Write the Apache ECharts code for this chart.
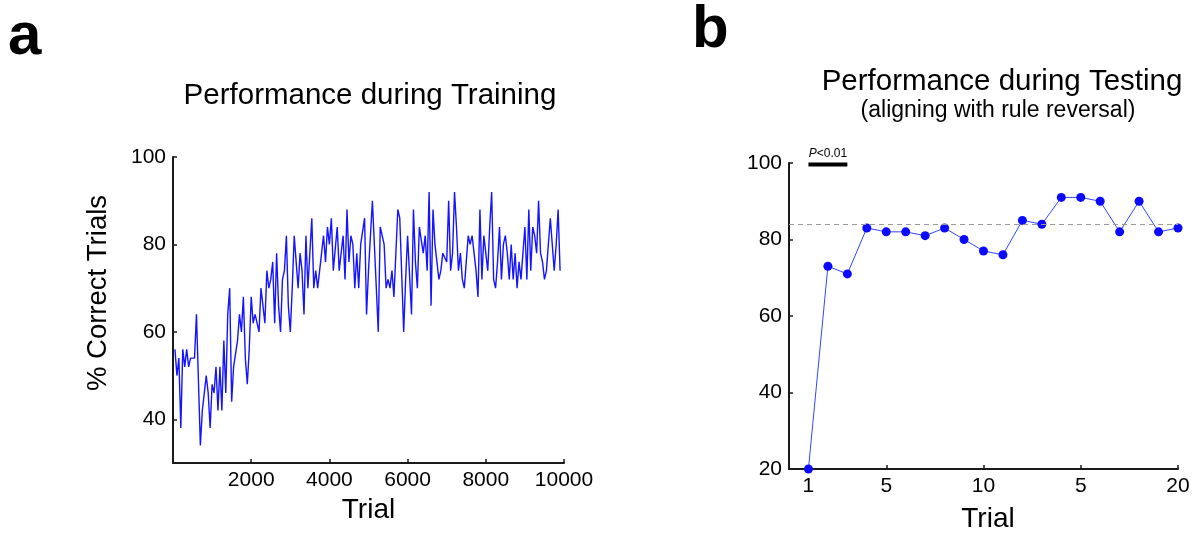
<!DOCTYPE html>
<html>
<head>
<meta charset="utf-8">
<script src="https://cdn.jsdelivr.net/npm/echarts@6/dist/echarts.min.js"></script>
<style>
html,body{margin:0;padding:0;background:#fff;}
#chart{width:1196px;height:538px;}
</style>
</head>
<body>
<div id="chart"></div>
<script>
// ---- Panel a: performance during training (% correct per 50-trial block) ----
const trialStep = 50;
const trainPct = [
56,50,54,38,56,52,56,52,54,54,
54,64,64,34,42,46,50,46,38,48,
46,52,42,52,42,58,46,64,70,44,
52,52,58,64,60,68,54,48,56,68,
62,64,62,60,70,70,62,74,70,72,
76,62,78,66,60,72,74,82,66,60,
70,82,76,70,78,74,64,82,70,70,
86,70,74,70,74,78,82,76,84,80,
86,74,74,84,74,78,82,72,88,76,
82,80,70,78,70,80,80,86,
64,74,74,90,80,80,60,84,84,80,
70,72,70,74,68,78,88,86,86,60,
72,82,82,64,88,76,70,84,84,78,
82,74,92,66,88,80,76,72,74,78,
78,76,90,74,78,92,84,74,78,72,
70,76,82,80,82,78,74,68,88,72,
82,78,74,84,92,72,70,76,84,72,
80,82,78,72,80,72,78,70,76,72,
78,84,72,88,74,84,82,78,90,78,
76,72,74,80,86,86,74,80,88,74
];
const trainXTicks = [2000, 4000, 6000, 8000, 10000];
const trainYTicks = [40, 60, 80, 100];

// ---- Panel b: performance during testing ----
const testTrials = [1,2,3,4,5,6,7,8,9,10,11,12,13,14,15,16,17,18,19,20];
const testPct    = [20,73,71,83,82,82,81,83,80,77,76,85,84,91,91,90,82,90,82,83];
const testXTicks = [1, 5, 10, 15, 20];
const testXLabels = ['1', '5', '10', '5', '20'];
const testYTicks = [20, 40, 60, 80, 100];
const refLevel = 84;
const sigTrials = [1, 3];
const sigLevel = 99.6;

const FONT = "'Liberation Sans', Arial, Helvetica, sans-serif";
const chart = echarts.init(document.getElementById('chart'), null, {renderer: 'canvas'});

const axisLine = {show: true, lineStyle: {color: '#1a1a1a', width: 2}};
const tickStyle = (vals) => ({show: true, inside: true, length: 4, customValues: vals, lineStyle: {color: '#1a1a1a', width: 1.5}});
const labelBase = {color: '#000', fontSize: 21, fontFamily: FONT};

const option = {
  animation: false,
  backgroundColor: '#fff',
  grid: [
    {left: 173, top: 157, width: 391, height: 306},
    {left: 789, top: 163, width: 389, height: 307}
  ],
  xAxis: [
    {
      gridIndex: 0, type: 'value', min: 0, max: 10000,
      axisLine: axisLine, axisTick: tickStyle(trainXTicks),
      axisLabel: Object.assign({customValues: trainXTicks, margin: 7, formatter: (v) => String(v)}, labelBase),
      splitLine: {show: false},
      name: 'Trial', nameLocation: 'middle', nameGap: 20,
      nameTextStyle: {fontSize: 28, color: '#000', fontFamily: FONT, verticalAlign: 'top'}
    },
    {
      gridIndex: 1, type: 'value', min: 0, max: 20,
      axisLine: axisLine, axisTick: tickStyle(testXTicks),
      axisLabel: Object.assign({
        customValues: testXTicks, margin: 7,
        formatter: (v) => { const i = testXTicks.indexOf(v); return i >= 0 ? testXLabels[i] : ''; }
      }, labelBase),
      splitLine: {show: false},
      name: 'Trial', nameLocation: 'middle', nameGap: 36,
      nameTextStyle: {fontSize: 28, color: '#000', fontFamily: FONT, verticalAlign: 'top', padding: [0, 0, 0, 9]}
    }
  ],
  yAxis: [
    {
      gridIndex: 0, type: 'value', min: 30, max: 100,
      axisLine: axisLine, axisTick: tickStyle(trainYTicks),
      axisLabel: Object.assign({customValues: trainYTicks, margin: 7}, labelBase),
      splitLine: {show: false}
    },
    {
      gridIndex: 1, type: 'value', min: 20, max: 100,
      axisLine: axisLine, axisTick: tickStyle(testYTicks),
      axisLabel: Object.assign({customValues: testYTicks, margin: 7}, labelBase),
      splitLine: {show: false}
    }
  ],
  series: [
    {
      type: 'line', xAxisIndex: 0, yAxisIndex: 0,
      data: trainPct.map((v, i) => [(i + 1) * trialStep, v]),
      showSymbol: false, symbol: 'none',
      lineStyle: {color: '#1414ff', width: 1.4},
      silent: true
    },
    {
      type: 'line', xAxisIndex: 1, yAxisIndex: 1,
      data: testTrials.map((t, i) => [t, testPct[i]]),
      symbol: 'circle', symbolSize: 9, clip: false,
      itemStyle: {color: '#0a0aff'},
      lineStyle: {color: '#3347ff', width: 1},
      markLine: {
        silent: true, symbol: 'none',
        label: {show: false},
        lineStyle: {color: '#9a9a9a', width: 1, type: [5, 4]},
        data: [{yAxis: refLevel}]
      },
      z: 3
    },
    {
      type: 'line', xAxisIndex: 1, yAxisIndex: 1,
      data: sigTrials.map(t => [t, sigLevel]),
      showSymbol: false, symbol: 'none', clip: false,
      lineStyle: {color: '#000', width: 4, cap: 'butt'},
      silent: true
    }
  ]
};
chart.setOption(option);

const sigPx = chart.convertToPixel({gridIndex: 1}, [(sigTrials[0] + sigTrials[1]) / 2, sigLevel]);

chart.setOption({
  graphic: [
    {type: 'text', left: 8, top: 7, style: {text: 'a', font: "bold 60px " + FONT, fill: '#000'}},
    {type: 'text', left: 692, top: 0, style: {text: 'b', font: "bold 60px " + FONT, fill: '#000'}},
    {type: 'text', x: 370, y: 96, style: {text: 'Performance during Training', font: "29.5px " + FONT, fill: '#000', align: 'center', verticalAlign: 'middle'}},
    {type: 'text', x: 1002, y: 82, style: {text: 'Performance during Testing', font: "29.5px " + FONT, fill: '#000', align: 'center', verticalAlign: 'middle'}},
    {type: 'text', x: 998, y: 111, style: {text: '(aligning with rule reversal)', font: "23px " + FONT, fill: '#000', align: 'center', verticalAlign: 'middle'}},
    {type: 'text', x: 98, y: 293, rotation: Math.PI / 2,
      style: {text: '% Correct Trials', font: "27.5px " + FONT, fill: '#000', align: 'center', verticalAlign: 'middle'}},
    {type: 'text', x: sigPx[0], y: sigPx[1] - 11,
      style: {
        text: '{i|P}{n|<0.01}', align: 'center', verticalAlign: 'middle',
        rich: {
          i: {fontStyle: 'italic', fontSize: 12, fontFamily: FONT, fill: '#000'},
          n: {fontSize: 12, fontFamily: FONT, fill: '#000'}
        }
      }}
  ]
});
</script>
</body>
</html>
